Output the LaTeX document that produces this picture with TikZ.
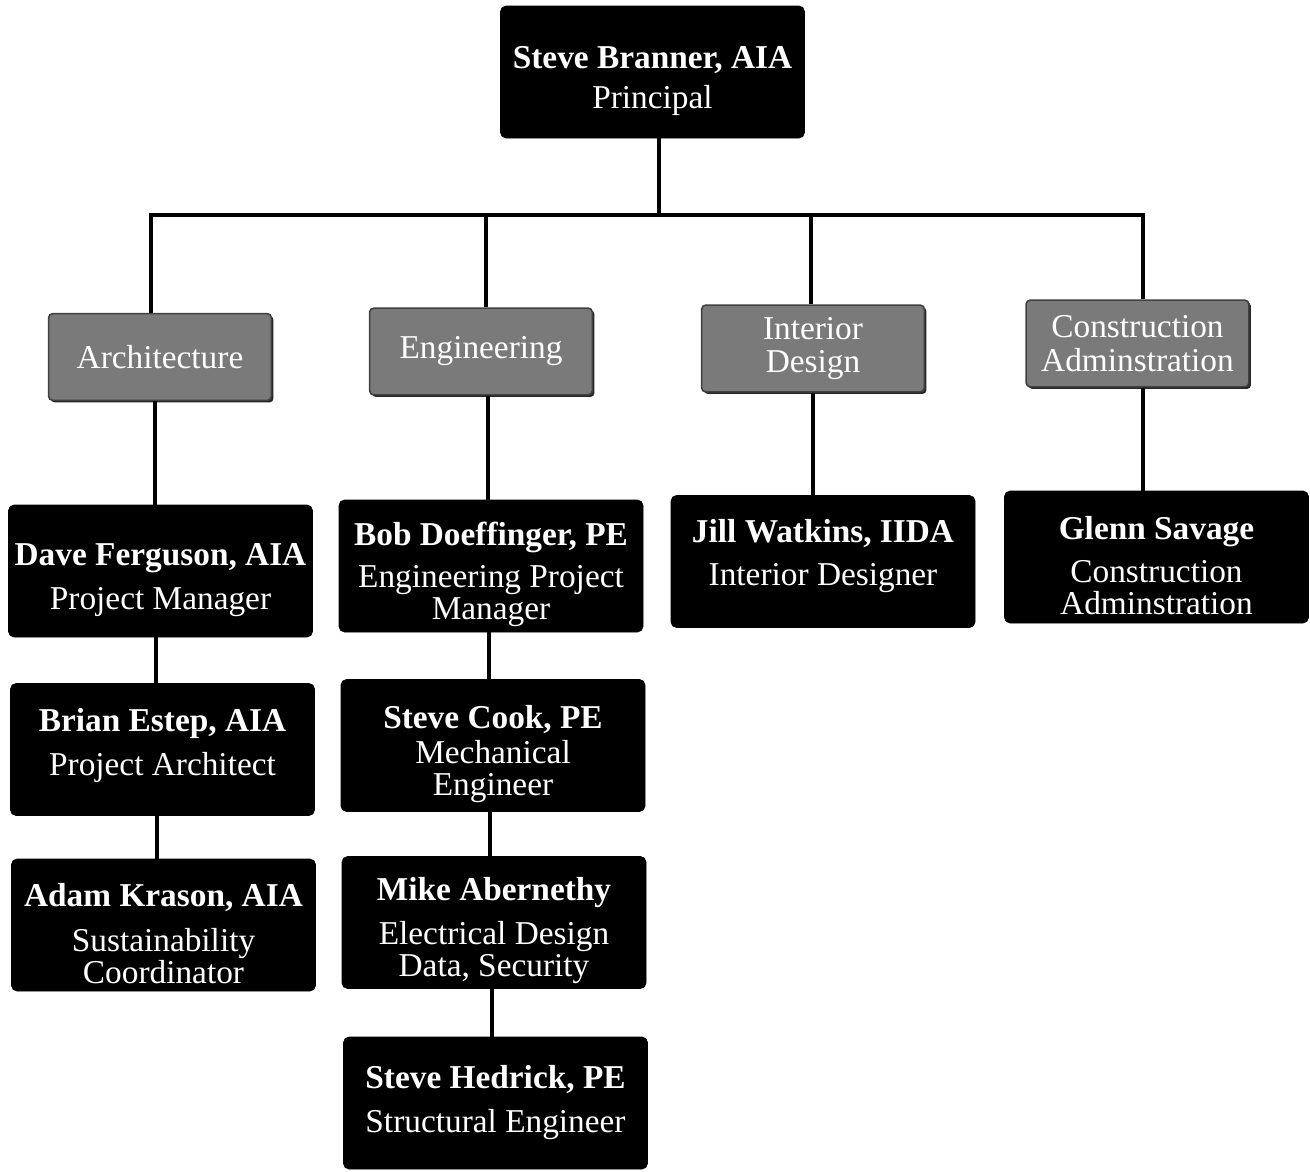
\documentclass[tikz,border=0pt]{standalone}
\usepackage{fontspec}
\setmainfont{Liberation Serif}
\usetikzlibrary{shadows}
\newcommand\topstrut{\rule{0pt}{30pt}}
\newcommand\botstrut[1]{\rule[-#1]{0pt}{0pt}}
\begin{document}
\begin{tikzpicture}[x=0.75pt,y=-0.75pt,
  person/.style={draw=black,fill=black,text=white,rounded corners=4pt,align=center,
    minimum width=228pt,minimum height=99pt,inner sep=0pt,
    font=\fontsize{25}{24}\selectfont},
  dept/.style={draw=black!75,line width=1.2pt,fill=black!52,text=white,rounded corners=3pt,align=center,
    minimum width=167pt,minimum height=65pt,inner sep=0pt,
    drop shadow={shadow xshift=1.6pt,shadow yshift=-1.6pt,fill=black!85,opacity=1},
    font=\fontsize{25}{25}\selectfont},
  link/.style={line width=3pt,black}]
\useasboundingbox (0,0) rectangle (1310,1171);
% top
\node[person] (top) at (652.5,72) {\topstrut\textbf{Steve Branner, AIA}\\[6pt]Principal};
% departments
\node[dept] (arch) at (160,357) {Architecture};
\node[dept] (eng) at (481,351.5) {Engineering};
\node[dept] (int) at (813,348.5) {Interior\\Design};
\node[dept] (con) at (1137.5,343.5) {Construction\\Adminstration};
% people
\node[person] (dave) at (160.5,571) {\topstrut\textbf{Dave Ferguson, AIA}\\[9pt]Project Manager};
\node[person] (brian) at (162.5,749.5) {\textbf{Brian Estep, AIA}\\[9pt]Project Architect\botstrut{12pt}};
\node[person] (adam) at (163.5,925) {\topstrut\textbf{Adam Krason, AIA}\\[10pt]Sustainability\\Coordinator};
\node[person] (bob) at (491,566) {\topstrut\textbf{Bob Doeffinger, PE}\\[7pt]Engineering Project\\Manager};
\node[person] (cook) at (493,745.5) {\topstrut\textbf{Steve Cook, PE}\\[2pt]Mechanical\\Engineer};
\node[person] (mike) at (494,922.5) {\topstrut\textbf{Mike Abernethy}\\[9pt]Electrical Design\\Data, Security};
\node[person] (hedrick) at (495.5,1103) {\textbf{Steve Hedrick, PE}\\[9pt]Structural Engineer};
\node[person] (jill) at (823,561.5) {\textbf{Jill Watkins, IIDA}\\[8pt]Interior Designer\botstrut{14pt}};
\node[person] (glenn) at (1156.5,557) {\topstrut\textbf{Glenn Savage}\\[8pt]Construction\\Adminstration};
% connectors
\coordinate (barL) at (151,215);
\coordinate (barR) at (1143,215);
\draw[link] ([xshift=5pt]top.south) -- ([xshift=5pt]top.south |- barL);
\draw[link] ([xshift=-1.5pt]barL) -- ([xshift=1.5pt]barR);
\draw[link] (barL) -- (barL |- arch.north);
\draw[link] ([xshift=4pt]eng.north) -- ([xshift=4pt]eng.north |- barL);
\draw[link] ([xshift=-1.5pt]int.north) -- ([xshift=-1.5pt]int.north |- barL);
\draw[link] (barR) -- (barR |- con.north);
\draw[link] ([xshift=-4pt]arch.south) -- ([xshift=-4pt]arch.south |- dave.north);
\draw[link] ([xshift=-3.5pt]dave.south) -- ([xshift=-3.5pt]dave.south |- brian.north);
\draw[link] ([xshift=-4.5pt]brian.south) -- ([xshift=-4.5pt]brian.south |- adam.north);
\draw[link] ([xshift=-2pt]bob.north) -- ([xshift=-2pt]bob.north |- eng.south);
\draw[link] ([xshift=-1.5pt]bob.south) -- ([xshift=-1.5pt]bob.south |- cook.north);
\draw[link] ([xshift=-2.2pt]cook.south) -- ([xshift=-2.2pt]cook.south |- mike.north);
\draw[link] ([xshift=-1.5pt]mike.south) -- ([xshift=-1.5pt]mike.south |- hedrick.north);
\draw[link] ([xshift=-7.5pt]jill.north) -- ([xshift=-7.5pt]jill.north |- int.south);
\draw[link] ([xshift=-10pt]glenn.north) -- ([xshift=-10pt]glenn.north |- con.south);
\end{tikzpicture}
\end{document}
